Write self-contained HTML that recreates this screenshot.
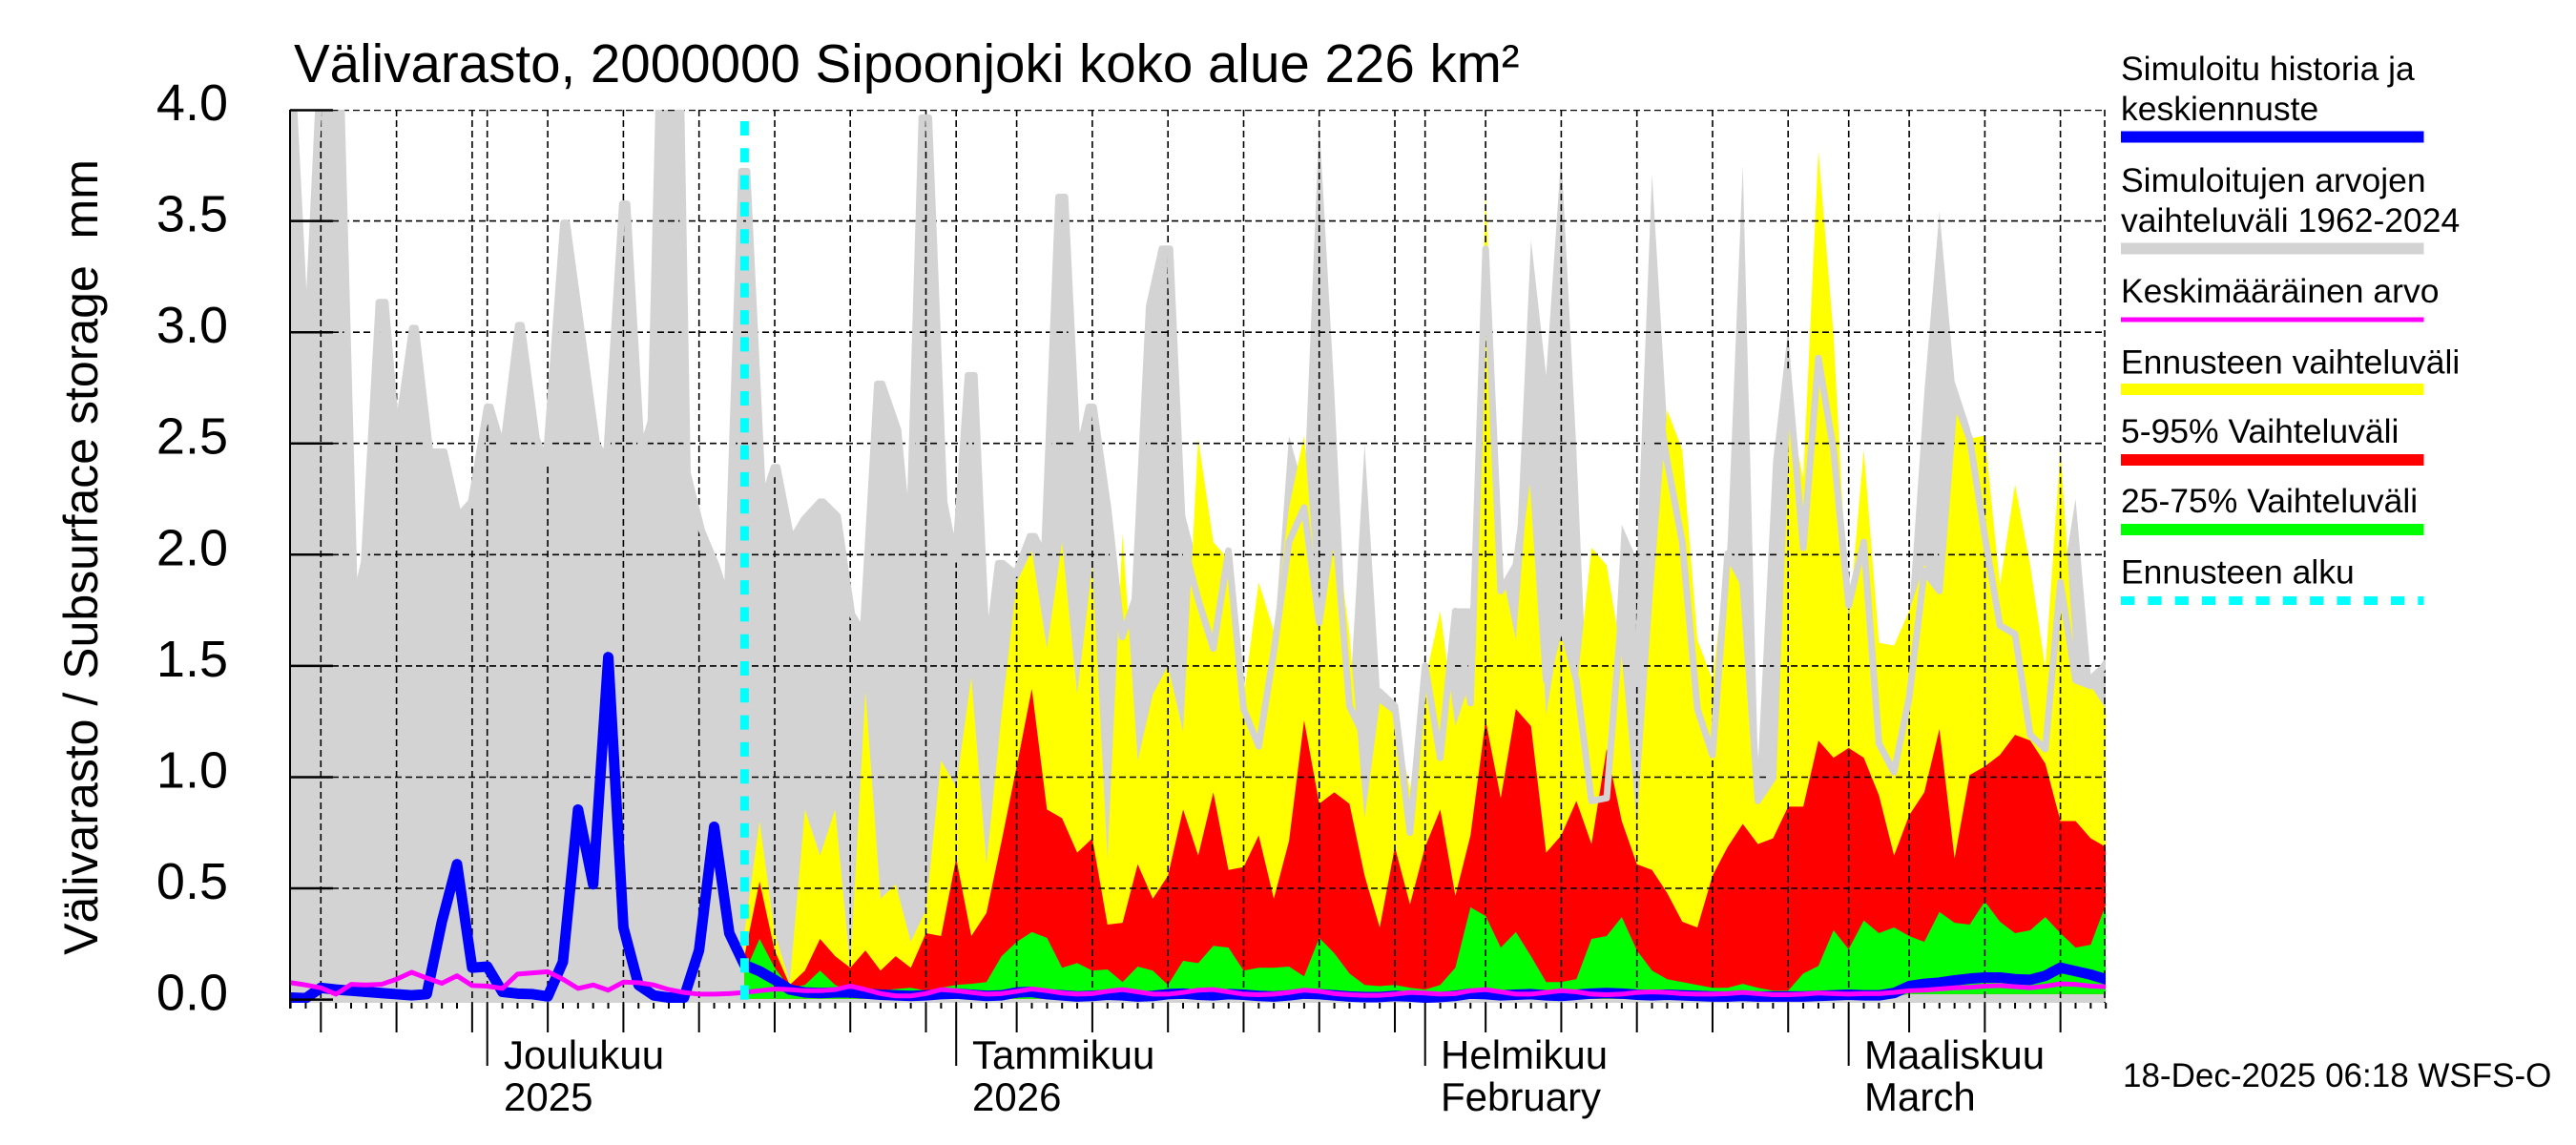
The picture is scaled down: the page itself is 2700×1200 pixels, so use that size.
<!DOCTYPE html>
<html><head><meta charset="utf-8"><style>
html,body{margin:0;padding:0;background:#fff;}
svg{display:block;}
text{font-family:"Liberation Sans",Arial,sans-serif;fill:#000;}
</style></head><body>
<svg xmlns="http://www.w3.org/2000/svg" width="2700" height="1200" viewBox="0 0 2700 1200">
<defs><clipPath id="pc"><rect x="304" y="115" width="1903" height="936"/></clipPath></defs>
<rect x="0" y="0" width="2700" height="1200" fill="#fff"/>

<g clip-path="url(#pc)">
 <g transform="matrix(15.855,0,0,0.6028,304.6,110)">
  <path fill="#d3d3d3" d="M-0.5,1561 -0.1,0 0.21,0 1.05,440 1.85,0 3.35,0 4.23,870 4.86,795 5.84,343 6.26,343 7.02,580 8.05,388 8.26,388 9.21,603 10.15,603 11.1,715 11.94,690 12.99,525 13.2,525 14.04,600 15.05,383 15.26,383 16.25,580 16.88,620 18.04,205 18.25,205 20.24,590 20.87,615 21.93,172 22.24,172 23.19,605 23.82,550 24.34,0 25.81,0 26.23,640 27.18,740 28.13,800 28.86,860 29.81,115 30.17,115 31.22,690 31.95,630 32.17,630 33.11,757 33.95,720 35,690 35.21,690 36.16,715 37.1,885 37.84,918 38.79,485 39.1,485 40.15,565 40.89,770 41.73,22 42.19,22 43.2,690 43.94,790 44.78,470 45.2,470 46.04,960 46.78,797 47.09,797 47.93,815 48.88,750 49.19,750 49.82,785 50.77,160 51.19,160 52.03,615 52.77,525 53.08,525 54.03,700 54.97,925 55.81,860 56.76,350 57.6,250 58.13,250 59,700 60,800 61,800 62,780 63,1050 64,1000 65,940 66,575 67,670 68,30 69,500 70,1045 71,590 72,1015 73,1045 74,1265 75,975 76,1135 77,875 78,875 79,200 80,845 81,800 82,235 83,470 84,85 85,600 86,1210 87,1205 88,730 89,790 90,120 91,560 92,1100 93,1150 94,1150 95,760 96,105 97,1150 98,620 99,390 100,760 101,700 102,800 103,830 104,900 105,1000 106,1000 107,880 108,500 109,185 110,480 111,560 112,700 113,900 114,900 115,1000 116,1100 117,850 118,685 119,990 120,965 120.5,1561Z"/>
  <path fill="#ffff00" d="M30,1554 30,1440 31,1245 32,1440 33,1525 34,1225 35,1305 36,1225 37,1500 38,1020 39,1380 40,1355 41,1455 42,1400 43,1140 44,1185 45,995 46,1320 47,1060 48,830 49,775 50,945 51,760 52,1025 53,800 54,1310 55,745 56,1140 57,1025 58,975 59,1090 60,580 61,760 62,790 63,1030 64,830 65,915 66,700 67,575 68,910 69,720 70,920 71,1240 72,1040 73,1060 74,1190 75,1000 76,880 77,1080 78,1000 79,150 80,800 81,930 82,590 83,1060 84,900 85,1020 86,770 87,800 88,960 89,1250 90,870 91,530 92,600 93,930 94,1000 95,775 96,830 97,1210 98,1160 99,520 100,650 101,80 102,400 103,900 104,600 105,935 106,940 107,880 108,800 109,845 110,530 111,580 112,575 113,835 114,660 115,800 116,980 117,600 118,1000 119,1010 120,1050 120.5,1050 120.5,1546 107,1546 105,1554Z"/>
  <path fill="#ff0000" d="M30,1554 30,1480 31,1350 32,1470 33,1530 34,1505 35,1450 36,1480 37,1500 38,1470 39,1505 40,1480 41,1500 42,1440 43,1445 44,1310 45,1445 46,1405 47,1280 48,1150 49,1015 50,1225 51,1240 52,1300 53,1275 54,1425 55,1422 56,1320 57,1380 58,1340 59,1225 60,1305 61,1195 62,1330 63,1325 64,1270 65,1380 66,1280 67,1070 68,1215 69,1195 70,1215 71,1340 72,1430 73,1290 74,1390 75,1290 76,1225 77,1375 78,1270 79,1070 80,1205 81,1050 82,1080 83,1300 84,1270 85,1210 86,1285 87,1120 88,1245 89,1320 90,1330 91,1370 92,1420 93,1430 94,1340 95,1290 96,1250 97,1285 98,1275 99,1220 100,1220 101,1105 102,1135 103,1118 104,1135 105,1200 106,1305 107,1235 108,1195 109,1085 110,1310 111,1165 112,1150 113,1130 114,1095 115,1105 116,1145 117,1245 118,1245 119,1275 120,1290 120.5,1290 120.5,1546 107,1546 105,1554Z"/>
  <path fill="#00ff00" d="M30,1554 30,1510 31,1450 32,1500 33,1535 34,1530 35,1505 36,1530 37,1540 38,1535 39,1540 40,1537 41,1535 42,1540 43,1535 44,1530 45,1528 46,1525 47,1480 48,1455 49,1438 50,1448 51,1500 52,1492 53,1505 54,1503 55,1525 56,1498 57,1505 58,1530 59,1488 60,1492 61,1462 62,1465 63,1505 64,1500 65,1500 66,1498 67,1515 68,1448 69,1475 70,1510 71,1530 72,1532 73,1530 74,1535 75,1538 76,1530 77,1500 78,1395 79,1410 80,1465 81,1438 82,1480 83,1525 84,1525 85,1520 86,1450 87,1445 88,1412 89,1470 90,1505 91,1520 92,1525 93,1530 94,1535 95,1535 96,1528 97,1535 98,1540 99,1540 100,1510 101,1497 102,1435 103,1468 104,1418 105,1440 106,1430 107,1445 108,1455 109,1403 110,1422 111,1425 112,1385 113,1420 114,1440 115,1435 116,1412 117,1440 118,1465 119,1460 120,1390 120.5,1390 120.5,1546 107,1546 105,1554Z"/>
 </g>

 <!-- grid -->
 <g stroke="#000" stroke-width="1.6" stroke-dasharray="7 4" fill="none">
  <path d="M304,115.5H2207M304,231.6H2207M304,348.2H2207M304,464.7H2207M304,581.3H2207M304,697.9H2207M304,814.5H2207M304,931H2207"/>
  <path d="M336.3,115V1051M415.6,115V1051M494.9,115V1051M510.7,115V1051M574.1,115V1051M653.4,115V1051M732.7,115V1051M812,115V1051M891.2,115V1051M970.5,115V1051M1002.2,115V1051M1065.6,115V1051M1144.9,115V1051M1224.2,115V1051M1303.5,115V1051M1382.7,115V1051M1462,115V1051M1493.7,115V1051M1557.1,115V1051M1636.4,115V1051M1715.7,115V1051M1795,115V1051M1874.2,115V1051M1937.7,115V1051M2001.1,115V1051M2080.4,115V1051M2159.6,115V1051M2206,115V1051"/>
 </g>

 <g transform="matrix(15.855,0,0,0.6028,304.6,110)" fill="none" stroke-linejoin="round" stroke-linecap="round">
  <path vector-effect="non-scaling-stroke" stroke="#d3d3d3" stroke-width="7" d="M-0.1,0 0.21,0 1.05,440 1.85,0 3.35,0 4.23,870 4.86,795 5.84,343 6.26,343 7.02,580 8.05,388 8.26,388 9.21,603 10.15,603 11.1,715 11.94,690 12.99,525 13.2,525 14.04,600 15.05,383 15.26,383 16.25,580 16.88,620 18.04,205 18.25,205 20.24,590 20.87,615 21.93,172 22.24,172 23.19,605 23.82,550 24.34,0 25.81,0 26.23,640 27.18,740 28.13,800 28.86,860 29.81,115 30.17,115 31.22,690 31.95,630 32.17,630 33.11,757 33.95,720 35,690 35.21,690 36.16,715 37.1,885 37.84,918 38.79,485 39.1,485 40.15,565 40.89,770 41.73,22 42.19,22 43.2,690 43.94,790 44.78,470 45.2,470 46.04,960 46.78,797 47.09,797 47.93,815 48.88,750 49.19,750 49.82,785 50.77,160 51.19,160 52.03,615 52.77,525 53.08,525 54.03,700 54.97,925 55.81,860 56.76,350 57.6,250 58.13,250 59,760 60,860 61,945 62,775 63,1050 64,1115 65,950 66,760 67,700 68,900 69,720 70,1045 71,1100 72,1020 73,1045 74,1265 75,975 76,1135 77,880 78,1040 79,250 80,845 81,800 82,600 83,1000 84,900 85,1000 86,1210 87,1205 88,880 89,1000 90,450 91,620 92,760 93,1050 94,1130 95,780 96,830 97,1210 98,1170 99,470 100,770 101,440 102,600 103,870 104,760 105,1110 106,1160 107,1030 108,810 109,845 110,510 111,580 112,750 113,905 114,920 115,1095 116,1120 117,830 118,1000 119,1010 120,970"/>
  <path vector-effect="non-scaling-stroke" stroke="#0000ff" stroke-width="11" d="M0,1552 1,1553 2,1535 3,1538 4,1540 5,1542 6,1544 7,1546 8,1548 9,1546 10,1420 11,1320 12,1500 13,1498 14,1542 15,1545 16,1546 17,1550 18,1490 19,1225 20,1355 21,960 22,1430 23,1530 24,1548 25,1552 26,1552 27,1470 28,1255 29,1440 30,1495 31,1506 32,1521 33,1538 34,1543 35,1544 36,1543 37,1543 38,1545 39,1547 40,1548 41,1549 42,1548 43,1546 44,1545 45,1547 46,1549 47,1548 48,1543 49,1542 50,1546 51,1548 52,1550 53,1549 54,1547 55,1548 56,1550 57,1549 58,1546 59,1545 60,1547 61,1548 62,1546 63,1547 64,1549 65,1550 66,1548 67,1545 68,1546 69,1548 70,1550 71,1551 72,1551 73,1549 74,1550 75,1552 76,1551 77,1549 78,1545 79,1546 80,1548 81,1547 82,1546 83,1548 84,1549 85,1547 86,1545 87,1544 88,1545 89,1547 90,1548 91,1547 92,1548 93,1549 94,1550 95,1550 96,1549 97,1550 98,1550 99,1550 100,1550 101,1549 102,1548 103,1547 104,1548 105,1548 106,1544 107,1532 108,1528 109,1526 110,1522 111,1519 112,1517 113,1517 114,1520 115,1521 116,1514 117,1500 118,1506 119,1512 120,1520"/>
  <path vector-effect="non-scaling-stroke" stroke="#ff00ff" stroke-width="5" d="M0,1526 1,1530 2,1535 3,1546 4,1529 5,1530 6,1529 7,1520 8,1508 9,1518 10,1527 11,1514 12,1531 13,1532 14,1536 15,1511 16,1509 17,1507 18,1520 19,1536 20,1530 21,1539 22,1525 23,1526 24,1530 25,1538 26,1543 27,1546 28,1546 29,1545 30,1543 31,1540 32,1537 33,1538 34,1540 35,1540 36,1538 37,1532 38,1538 39,1545 40,1549 41,1549 42,1545 43,1538 44,1540 45,1543 46,1546 47,1545 48,1541 49,1537 50,1540 51,1544 52,1546 53,1545 54,1541 55,1538 56,1542 57,1546 58,1546 59,1543 60,1539 61,1538 62,1542 63,1546 64,1547 65,1546 66,1543 67,1539 68,1541 69,1545 70,1547 71,1548 72,1548 73,1546 74,1543 75,1544 76,1546 77,1545 78,1540 79,1538 80,1542 81,1546 82,1546 83,1543 84,1540 85,1542 86,1546 87,1547 88,1546 89,1543 90,1542 91,1543 92,1545 93,1546 94,1546 95,1545 96,1543 97,1545 98,1547 99,1547 100,1546 101,1544 102,1545 103,1546 104,1545 105,1545 106,1543 107,1540 108,1539 109,1537 110,1535 111,1534 112,1532 113,1531 114,1533 115,1535 116,1532 117,1528 118,1529 119,1532 120,1533"/>
 </g>
 <line x1="780.4" y1="127" x2="780.4" y2="1051" stroke="#00ffff" stroke-width="9" stroke-dasharray="15 13.3"/>
</g>

<!-- axis -->
<line x1="304" y1="115" x2="304" y2="1057" stroke="#000" stroke-width="2"/>
<path stroke="#000" stroke-width="2.5" d="M304,115.5h45M304,231.6h45M304,348.2h45M304,464.7h45M304,581.3h45M304,697.9h45M304,814.5h45M304,931h45M304,1047.6h45"/>
<g transform="matrix(15.855,0,0,0.6028,304.6,110)" fill="none" stroke="#000">
 <path vector-effect="non-scaling-stroke" stroke-width="2" d="M0,1561v10M1,1561v10M3,1561v10M4,1561v10M5,1561v10M6,1561v10M8,1561v10M9,1561v10M10,1561v10M11,1561v10M14,1561v10M15,1561v10M16,1561v10M18,1561v10M19,1561v10M20,1561v10M21,1561v10M23,1561v10M24,1561v10M25,1561v10M26,1561v10M28,1561v10M29,1561v10M30,1561v10M31,1561v10M33,1561v10M34,1561v10M35,1561v10M36,1561v10M38,1561v10M39,1561v10M40,1561v10M41,1561v10M43,1561v10M45,1561v10M46,1561v10M47,1561v10M49,1561v10M50,1561v10M51,1561v10M52,1561v10M54,1561v10M55,1561v10M56,1561v10M57,1561v10M59,1561v10M60,1561v10M61,1561v10M62,1561v10M64,1561v10M65,1561v10M66,1561v10M67,1561v10M69,1561v10M70,1561v10M71,1561v10M72,1561v10M74,1561v10M76,1561v10M77,1561v10M78,1561v10M80,1561v10M81,1561v10M82,1561v10M83,1561v10M85,1561v10M86,1561v10M87,1561v10M88,1561v10M90,1561v10M91,1561v10M92,1561v10M93,1561v10M95,1561v10M96,1561v10M97,1561v10M98,1561v10M100,1561v10M101,1561v10M102,1561v10M104,1561v10M105,1561v10M106,1561v10M108,1561v10M109,1561v10M110,1561v10M111,1561v10M113,1561v10M114,1561v10M115,1561v10M116,1561v10M118,1561v10M119,1561v10M120,1561v10"/>
 <path vector-effect="non-scaling-stroke" stroke-width="2" d="M2,1561v51.4M7,1561v51.4M12,1561v51.4M17,1561v51.4M22,1561v51.4M27,1561v51.4M32,1561v51.4M37,1561v51.4M42,1561v51.4M48,1561v51.4M53,1561v51.4M58,1561v51.4M63,1561v51.4M68,1561v51.4M73,1561v51.4M79,1561v51.4M84,1561v51.4M89,1561v51.4M94,1561v51.4M99,1561v51.4M107,1561v51.4M112,1561v51.4M117,1561v51.4"/>
 <path vector-effect="non-scaling-stroke" stroke-width="2" d="M13,1561v109.5M44,1561v109.5M75,1561v109.5M103,1561v109.5"/>
</g>

<!-- y tick labels -->
<g font-size="54" text-anchor="end">
 <text x="239" y="126">4.0</text>
 <text x="239" y="242.6">3.5</text>
 <text x="239" y="359.2">3.0</text>
 <text x="239" y="475.7">2.5</text>
 <text x="239" y="592.3">2.0</text>
 <text x="239" y="709">1.5</text>
 <text x="239" y="825.5">1.0</text>
 <text x="239" y="942">0.5</text>
 <text x="239" y="1058.6">0.0</text>
</g>
<text transform="translate(102,584) rotate(-90)" font-size="50" text-anchor="middle">Välivarasto / Subsurface storage&#160; mm</text>

<!-- title -->
<text x="308" y="86" font-size="56.5">Välivarasto, 2000000 Sipoonjoki koko alue 226 km²</text>

<!-- month labels -->
<g font-size="42">
 <text x="528" y="1120">Joulukuu</text>
 <text x="528" y="1164">2025</text>
 <text x="1019" y="1120">Tammikuu</text>
 <text x="1019" y="1164">2026</text>
 <text x="1510" y="1120">Helmikuu</text>
 <text x="1510" y="1164">February</text>
 <text x="1954" y="1120">Maaliskuu</text>
 <text x="1954" y="1164">March</text>
</g>
<text x="2225" y="1139" font-size="35">18-Dec-2025 06:18 WSFS-O</text>

<!-- legend -->
<g font-size="35.5">
 <text x="2223" y="84">Simuloitu historia ja</text>
 <text x="2223" y="126">keskiennuste</text>
 <text x="2223" y="201">Simuloitujen arvojen</text>
 <text x="2223" y="243">vaihteluväli 1962-2024</text>
 <text x="2223" y="317">Keskimääräinen arvo</text>
 <text x="2223" y="391.5">Ennusteen vaihteluväli</text>
 <text x="2223" y="464">5-95% Vaihteluväli</text>
 <text x="2223" y="537">25-75% Vaihteluväli</text>
 <text x="2223" y="611.5">Ennusteen alku</text>
</g>
<rect x="2223" y="137.5" width="317.5" height="12" fill="#0000ff"/>
<rect x="2223" y="254.5" width="317.5" height="12" fill="#d3d3d3"/>
<rect x="2223" y="332.5" width="317.5" height="5" fill="#ff00ff"/>
<rect x="2223" y="402" width="317.5" height="12" fill="#ffff00"/>
<rect x="2223" y="476" width="317.5" height="12" fill="#ff0000"/>
<rect x="2223" y="549" width="317.5" height="12" fill="#00ff00"/>
<line x1="2223" y1="629.5" x2="2540.5" y2="629.5" stroke="#00ffff" stroke-width="9" stroke-dasharray="14.3 14"/>
</svg>
</body></html>
